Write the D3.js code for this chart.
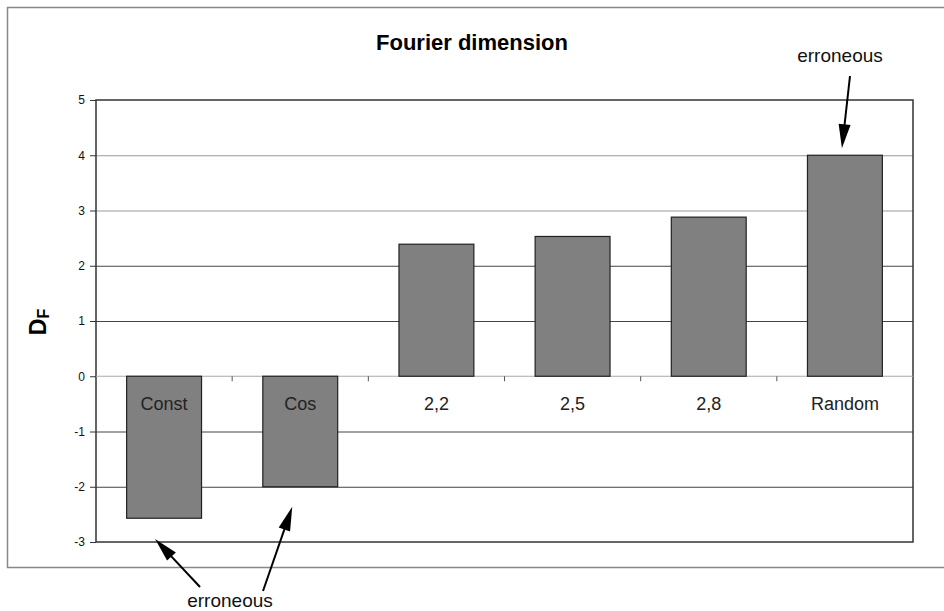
<!DOCTYPE html>
<html><head><meta charset="utf-8">
<script src="https://cdn.jsdelivr.net/npm/d3@7"></script>
<style>body{margin:0;background:#fff}svg{display:block;font-family:"Liberation Sans",Arial,sans-serif}</style>
</head><body><svg id="c" width="944" height="611"></svg>
<script>
const categories = ["Const","Cos","2,2","2,5","2,8","Random"];
const values = [-2.57, -2.0, 2.39, 2.53, 2.88, 4.0];
const yTicks = [-3,-2,-1,0,1,2,3,4,5];
const title = "Fourier dimension";
const annotationText = "erroneous";

const svg = d3.select("#c");
const m = {left:96, right:913, top:100, bottom:542};
const x = d3.scaleBand().domain(categories).range([m.left, m.right]).paddingInner(0.45).paddingOuter(0.225);
const xb = d3.scaleBand().domain(categories).range([m.left, m.right]);
const y = d3.scaleLinear().domain([-3,5]).range([m.bottom, m.top]);

// outer frame
svg.append("rect").attr("x",7.5).attr("y",7.5).attr("width",950).attr("height",560).attr("fill","none").attr("stroke","#888").attr("stroke-width",1.5);

// gridlines
svg.append("g").selectAll("line").data(yTicks.filter(d=>d!==0 && d!==-3 && d!==5)).join("line")
  .attr("x1",m.left).attr("x2",m.right).attr("y1",d=>y(d)+0.5).attr("y2",d=>y(d)+0.5)
  .attr("stroke",d=>d>=3?"#999":"#444").attr("stroke-width",1);

// plot border
svg.append("rect").attr("x",m.left).attr("y",m.top).attr("width",m.right-m.left).attr("height",m.bottom-m.top)
  .attr("fill","none").attr("stroke","#333").attr("stroke-width",1.5);

// y axis
const yAxis = d3.axisLeft(y).tickValues(yTicks).tickSize(6).tickPadding(5).tickFormat(d=>String(d));
const ga = svg.append("g").attr("transform",`translate(${m.left},0)`).call(yAxis);
ga.select(".domain").remove();
ga.selectAll(".tick line").attr("stroke","#333");
ga.selectAll(".tick text").attr("font-size",12).attr("fill","#111").attr("font-family","Liberation Sans, Arial, sans-serif");

// zero axis
svg.append("line").attr("x1",m.left).attr("x2",m.right).attr("y1",y(0)).attr("y2",y(0)).attr("stroke","#aaa").attr("stroke-width",1);
const xAxis = d3.axisBottom(xb).tickSize(0).tickFormat("");
const gx = svg.append("g").attr("transform",`translate(0,${y(0)})`).call(xAxis);
gx.select(".domain").remove();
svg.append("g").selectAll("line").data(categories.slice(1)).join("line")
  .attr("x1",d=>xb(d)).attr("x2",d=>xb(d)).attr("y1",y(0)).attr("y2",y(0)+5).attr("stroke","#555");

// bars
svg.append("g").selectAll("rect").data(categories).join("rect")
  .attr("x",d=>x(d)).attr("width",x.bandwidth())
  .attr("y",(d,i)=>y(Math.max(0,values[i]))).attr("height",(d,i)=>Math.abs(y(values[i])-y(0)))
  .attr("fill","#808080").attr("stroke","#222").attr("stroke-width",1.2);

// category labels
svg.append("g").selectAll("text").data(categories).join("text")
  .attr("x",d=>xb(d)+xb.bandwidth()/2).attr("y",y(0)+34).attr("text-anchor","middle")
  .attr("font-size",18).attr("fill","#222").text(d=>d);

// title
svg.append("text").attr("x",472).attr("y",50).attr("text-anchor","middle").attr("font-size",22).attr("font-weight","bold").text(title);

// y label
const yl = svg.append("text").attr("transform","translate(46,322) rotate(-90)").attr("text-anchor","middle").attr("font-weight","bold").attr("font-size",23);
yl.append("tspan").text("D");
yl.append("tspan").attr("font-size",16).attr("dy",3).text("F");

function arrow(x1,y1,x2,y2){
  const len = Math.hypot(x2-x1,y2-y1);
  const ux=(x2-x1)/len, uy=(y2-y1)/len, px=-uy, py=ux, hl=24, hw=6;
  const bx=x2-ux*hl, by=y2-uy*hl;
  svg.append("line").attr("x1",x1).attr("y1",y1).attr("x2",bx+ux*4).attr("y2",by+uy*4).attr("stroke","#000").attr("stroke-width",2);
  svg.append("path").attr("d",`M${x2},${y2} L${bx+px*hw},${by+py*hw} L${bx-px*hw},${by-py*hw} Z`).attr("fill","#000");
}
const ri = categories.indexOf("Random");
const rx = x("Random")+x.bandwidth()/2;
arrow(850,76,rx-3,y(values[ri])-7);
const cx0 = x("Const")+x.bandwidth()/2, cx1 = x("Cos")+x.bandwidth()/2;
arrow(200,587,cx0-9,y(-3)-3);
arrow(263,591,cx1-8,y(values[1])+20);

svg.append("text").attr("x",840).attr("y",62).attr("text-anchor","middle").attr("font-size",19).attr("fill","#111").text(annotationText);
svg.append("text").attr("x",230).attr("y",607).attr("text-anchor","middle").attr("font-size",19).attr("fill","#111").text(annotationText);
</script></body></html>
